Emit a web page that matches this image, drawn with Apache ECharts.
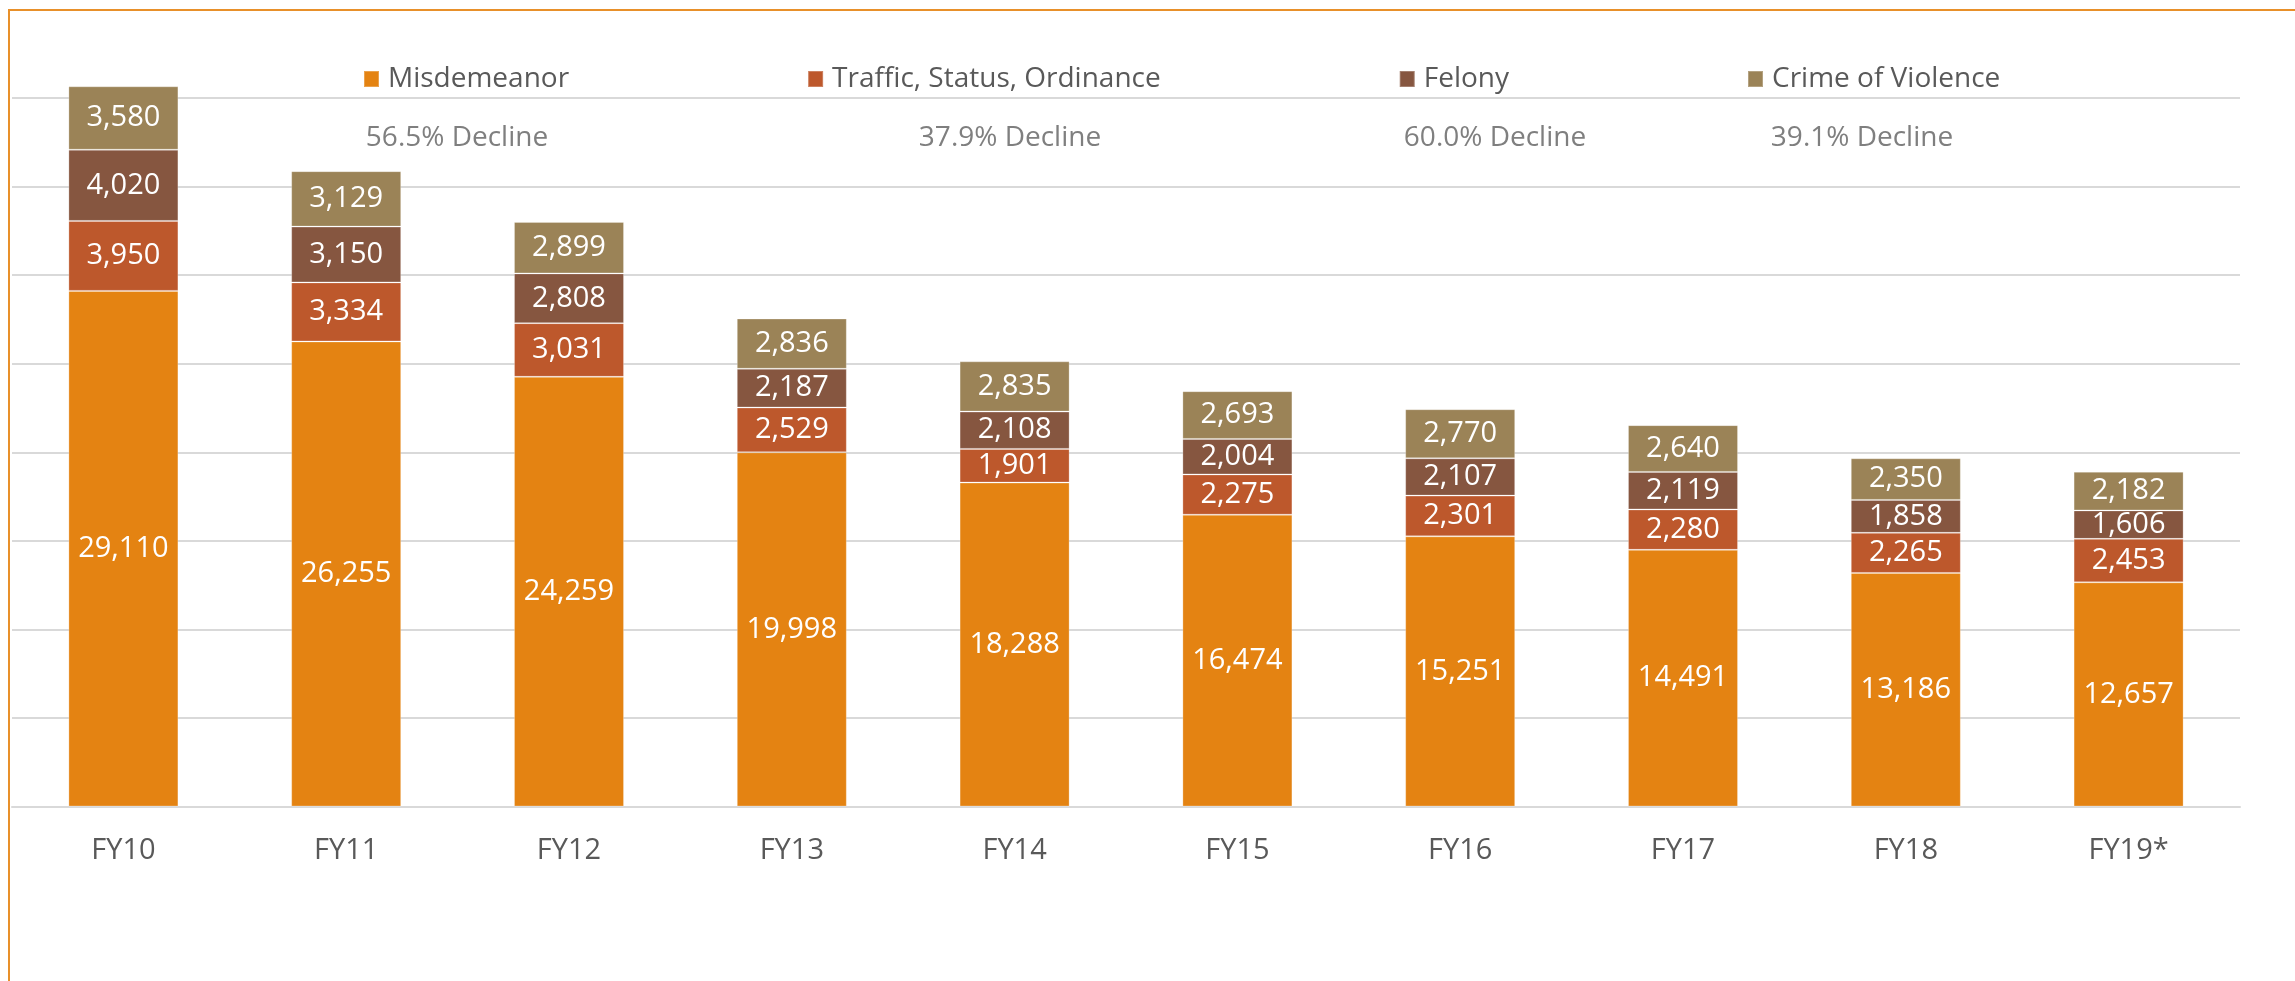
<!DOCTYPE html>
<html>
<head>
<meta charset="utf-8">
<style>
  html, body { margin: 0; padding: 0; background: #fff; }
  #chart { width: 2295px; height: 981px; }
</style>
<script src="https://cdn.jsdelivr.net/npm/echarts@6/dist/echarts.min.js"></script>
</head>
<body>
<div id="chart"></div>
<script>
const categories = ['FY10', 'FY11', 'FY12', 'FY13', 'FY14', 'FY15', 'FY16', 'FY17', 'FY18', 'FY19*'];
const misdemeanor = [29110, 26255, 24259, 19998, 18288, 16474, 15251, 14491, 13186, 12657];
const traffic = [3950, 3334, 3031, 2529, 1901, 2275, 2301, 2280, 2265, 2453];
const felony = [4020, 3150, 2808, 2187, 2108, 2004, 2107, 2119, 1858, 1606];
const violence = [3580, 3129, 2899, 2836, 2835, 2693, 2770, 2640, 2350, 2182];
const seriesNames = ['Misdemeanor', 'Traffic, Status, Ordinance', 'Felony', 'Crime of Violence'];
const declines = ['56.5% Decline', '37.9% Decline', '60.0% Decline', '39.1% Decline'];

const colors = ['#E48312', '#BD582C', '#865640', '#9B8357'];
const font = '"Open Sans", sans-serif';

const chart = echarts.init(document.getElementById('chart'));

function makeSeries(name, data, i) {
  return {
    name: name,
    type: 'bar',
    stack: 'total',
    barWidth: 110,
    clip: false,
    data: data,
    itemStyle: {
      color: colors[i],
      borderColor: 'rgba(255,255,255,0.25)',
      borderWidth: 1
    },
    label: {
      show: true,
      position: 'inside',
      color: '#ffffff',
      fontFamily: font,
      fontSize: 29,
      formatter: p => p.value.toLocaleString('en-US')
    }
  };
}

// x centres of the decline notes
const declineX = [457, 1010, 1495, 1862];

const option = {
  animation: false,
  color: colors,
  grid: { left: 12, right: 55, top: 98, bottom: 174.5 },
  legend: {
    data: seriesNames,
    left: 358,
    top: 60,
    icon: 'rect',
    itemWidth: 15,
    itemHeight: 16,
    itemGap: 238,
    textStyle: { color: '#595959', fontFamily: font, fontSize: 28, padding: [0, 0, 0, 4] }
  },
  xAxis: {
    type: 'category',
    data: categories,
    axisLine: { lineStyle: { color: '#d9d9d9', width: 2 } },
    axisTick: { show: false },
    axisLabel: { color: '#595959', fontFamily: font, fontSize: 29, margin: 30 }
  },
  yAxis: {
    type: 'value',
    min: 0,
    max: 40000,
    interval: 5000,
    axisLabel: { show: false },
    axisLine: { show: false },
    axisTick: { show: false },
    splitLine: { lineStyle: { color: '#d9d9d9', width: 2 } }
  },
  graphic: [
    {
      type: 'rect',
      shape: { x: 9, y: 10, width: 2400, height: 1100 },
      style: { fill: 'none', stroke: '#E8902A', lineWidth: 2 },
      silent: true
    }
  ].concat(declines.map((t, i) => ({
    type: 'text',
    x: declineX[i],
    y: 138,
    style: {
      text: t,
      fill: '#7f7f7f',
      font: '28px ' + font,
      textAlign: 'center',
      textVerticalAlign: 'middle'
    }
  }))),
  series: [
    makeSeries(seriesNames[0], misdemeanor, 0),
    makeSeries(seriesNames[1], traffic, 1),
    makeSeries(seriesNames[2], felony, 2),
    makeSeries(seriesNames[3], violence, 3)
  ]
};

chart.setOption(option);
</script>
</body>
</html>
